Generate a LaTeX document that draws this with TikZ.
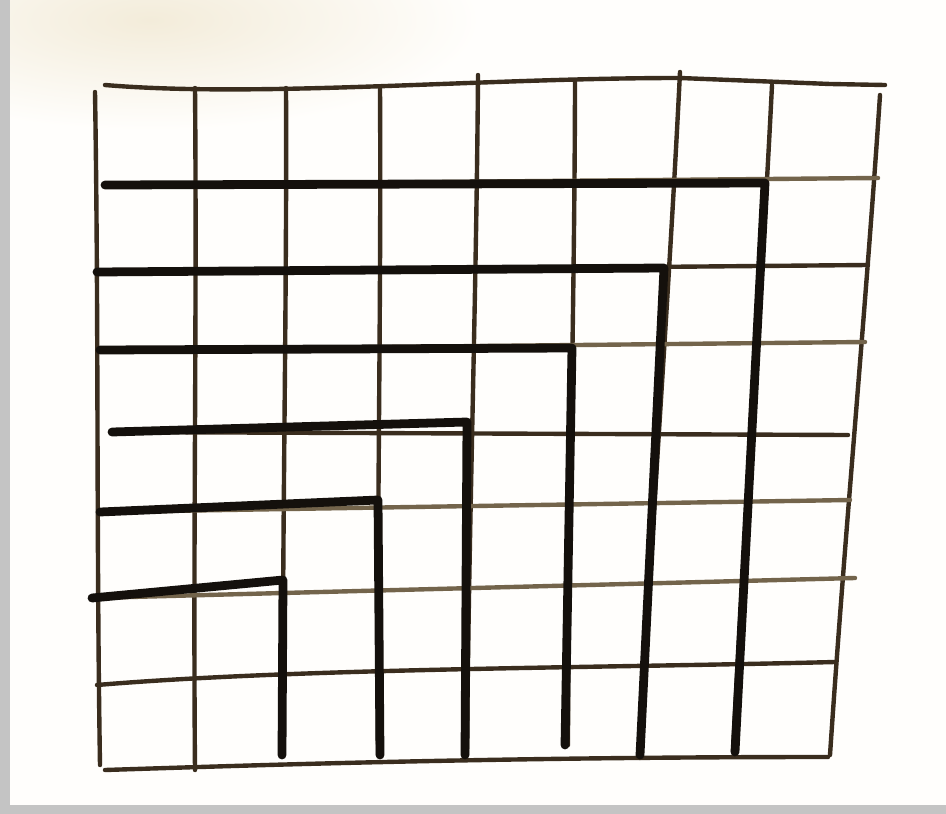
\documentclass[tikz,border=0pt]{standalone}
\usepackage{tikz}

\definecolor{paper}{RGB}{255,254,252}
\definecolor{creamy}{RGB}{243,236,218}
\definecolor{pencil}{RGB}{58,45,30}
\definecolor{faded}{RGB}{115,100,75}
\definecolor{ink}{RGB}{20,16,12}
\definecolor{frame}{RGB}{196,196,196}

\begin{document}
\begin{tikzpicture}[x=0.02cm, y=-0.02cm,
    gridline/.style={pencil, line width=2.5pt, line cap=round},
    fadeline/.style={faded, line width=2.5pt, line cap=round},
    stairline/.style={ink, line width=5pt, line cap=round, line join=round}]
  \useasboundingbox (0,0) rectangle (946,814);
  % sheet of paper
  \fill[frame] (0,0) rectangle (946,814);
  \fill[paper] (10,0) rectangle (946,805);
  \begin{scope}
    \clip (10,0) rectangle (946,805);
    \shade[inner color=creamy, outer color=paper] (150,20) ellipse (330 and 110);
  \end{scope}

  % vertical grid lines
  \foreach \xa/\ya/\xb/\yb in {95/92/100/765, 195/88/195/770, 286/88/283/755,
      380/88/378/755, 478/75/467/755, 575/80/568/745, 680/72/640/758,
      772/85/733/752, 880/95/830/755}
    \draw[gridline] (\xa,\ya) .. controls ({\xa+(\xb-\xa)/3+2},{\ya+(\yb-\ya)/3}) and ({\xa+2*(\xb-\xa)/3-2},{\ya+2*(\yb-\ya)/3}) .. (\xb,\yb);

  % horizontal grid lines
  \draw[gridline] (105,85) .. controls (260,98) and (480,78) .. (680,78) -- (830,84) -- (885,85);
  \draw[fadeline] (105,185) -- (878,178);
  \draw[gridline] (97,272) -- (868,265);
  \draw[fadeline] (100,350) -- (865,342);
  \draw[gridline] (112,432) -- (848,435);
  \draw[fadeline] (100,512) -- (850,500);
  \draw[fadeline] (92,598) -- (855,578);
  \draw[gridline] (97,685) .. controls (300,668) and (600,668) .. (835,662);
  \draw[gridline] (105,770) .. controls (260,765) and (500,757) .. (828,757);

  % staircase of thick strokes
  \draw[stairline] (105,185) -- (765,183) -- (735,752);
  \draw[stairline] (97,272) -- (664,268) -- (640,755);
  \draw[stairline] (100,350) -- (572,348) -- (565,745);
  \draw[stairline] (112,432) -- (467,422) -- (465,755);
  \draw[stairline] (100,512) -- (378,500) -- (380,755);
  \draw[stairline] (92,598) -- (283,580) -- (282,755);
\end{tikzpicture}
\end{document}
